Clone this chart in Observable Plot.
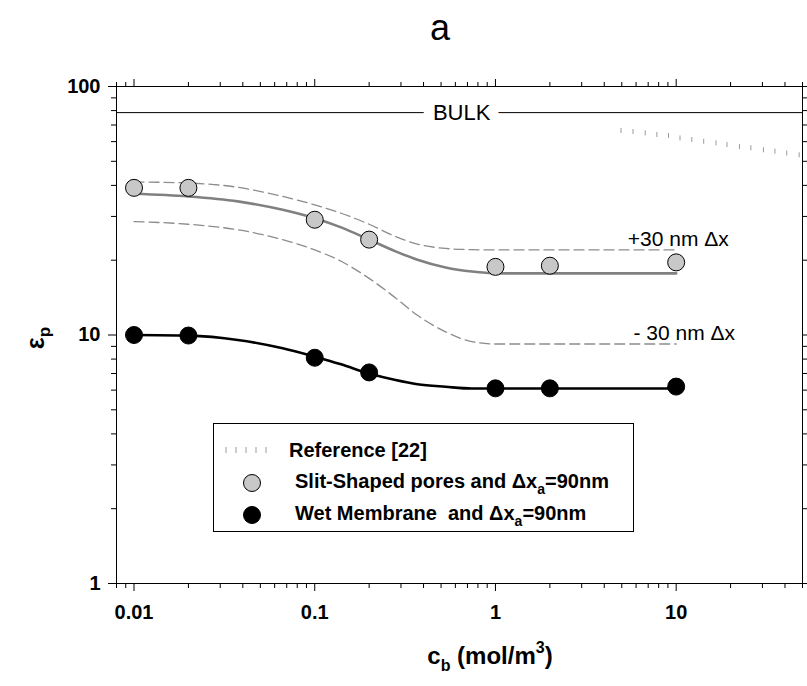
<!DOCTYPE html>
<html>
<head>
<meta charset="utf-8">
<script src="https://cdn.jsdelivr.net/npm/d3@7"></script>
<script src="https://cdn.jsdelivr.net/npm/@observablehq/plot@0.6"></script>
<style>
  body { margin: 0; background: #fff; font-family: "Liberation Sans", Arial, sans-serif; }
  #wrap { position: relative; width: 807px; height: 686px; overflow: hidden; }
  #title { position: absolute; left: 440px; top: 8px; transform: translateX(-50%); font-size: 36px; line-height: 40px; color: #000; }
  #chart { position: absolute; left: 0; top: 60px; }
</style>
</head>
<body>
<div id="wrap">
  <div id="title">a</div>
  <div id="chart"></div>
</div>
<script>
// Bulk concentration c_b (mol/m^3) of the measured points
const pointsX = [0.01, 0.02, 0.1, 0.2, 1, 2, 10];
// Slit-shaped pores, Δx_a = 90 nm
const slitY = [39.1, 39.1, 29.1, 24.2, 18.8, 19.0, 19.6];
// Wet membrane, Δx_a = 90 nm
const wetY = [10.0, 9.95, 8.1, 7.07, 6.1, 6.1, 6.2];

// Model curves sampled along c_b
const curveX = [0.01, 0.02, 0.0375, 0.0665, 0.1, 0.14, 0.2, 0.28, 0.37, 0.53, 0.74, 1, 10];
const slitFit = [37.0, 36.1, 34.5, 31.9, 29.5, 27.1, 24.2, 21.7, 20.1, 18.7, 18.0, 17.7, 17.7];
const plus30 = [41.3, 40.9, 39.3, 36.1, 33.4, 30.9, 27.9, 24.9, 23.2, 22.3, 22.05, 22.0, 22.0];
const minus30 = [28.6, 27.9, 26.5, 24.2, 22.0, 19.8, 16.9, 14.1, 12.0, 10.3, 9.4, 9.2, 9.2];
const wetFit = [10.0, 9.94, 9.55, 8.84, 8.18, 7.62, 7.0, 6.59, 6.34, 6.19, 6.09, 6.09, 6.09];

// Reference [22]
const refX = [4.95, 5.77, 6.74, 7.82, 9.07, 10.5, 12.2, 14.2, 16.6, 19.1, 22.4, 25.9, 30.4, 35.2, 40.9, 47.9];
const refY = [66.5, 65.9, 65.1, 64.1, 63.5, 62.1, 61.2, 60.2, 59.3, 58.4, 57.3, 56.7, 55.6, 54.9, 54.0, 53.1];

// Bulk permittivity
const bulkValue = 78.5;

// Axis ticks
const xTickLabels = [0.01, 0.1, 1, 10];
const yTickLabels = [1, 10, 100];

const xDomain = [0.008, 50];
const yDomain = [1, 100];

const xMinor = [];
for (let e = -3; e <= 1; e++) for (let m = 2; m <= 9; m++) {
  const v = m * Math.pow(10, e);
  if (v >= xDomain[0] && v <= xDomain[1]) xMinor.push(v);
}
const yMinor = [];
for (let e = 0; e <= 1; e++) for (let m = 2; m <= 9; m++) yMinor.push(m * Math.pow(10, e));

const pts = (xs, ys) => xs.map((x, i) => ({x, y: ys[i]}));

// small vertical dash used for the reference series
const dash = {
  draw(context, size) {
    const r = Math.sqrt(size / Math.PI);
    context.moveTo(0, -r);
    context.lineTo(0, r);
  }
};

const blank = () => "";

const plot = Plot.plot({
  width: 807,
  height: 626,
  marginTop: 26,
  marginLeft: 116,
  marginRight: 5,
  marginBottom: 103,
  x: {type: "log", domain: xDomain, label: null},
  y: {type: "log", domain: yDomain, label: null},
  style: {
    fontFamily: "'Liberation Sans', Arial, sans-serif",
    fontSize: "20px",
    fontWeight: "bold",
    color: "#000",
    background: "#fff",
    overflow: "visible"
  },
  marks: [
    // ticks on all four sides
    Plot.axisX({anchor: "bottom", ticks: xMinor, tickSize: 5, tickFormat: blank, label: null}),
    Plot.axisX({anchor: "top", ticks: xMinor, tickSize: 5, tickFormat: blank, label: null}),
    Plot.axisX({anchor: "top", ticks: xTickLabels, tickSize: 8, tickFormat: blank, label: null}),
    Plot.axisX({anchor: "bottom", ticks: xTickLabels, tickSize: 8, tickPadding: 13, tickFormat: d => String(d), label: null}),
    Plot.axisY({anchor: "left", ticks: yMinor, tickSize: 5, tickFormat: blank, label: null}),
    Plot.axisY({anchor: "right", ticks: yMinor, tickSize: 5, tickFormat: blank, label: null}),
    Plot.axisY({anchor: "right", ticks: yTickLabels, tickSize: 8, tickFormat: blank, label: null}),
    Plot.axisY({anchor: "left", ticks: yTickLabels, tickSize: 8, tickPadding: 8, tickFormat: d => String(d), label: null}),
    Plot.frame({stroke: "#000", strokeWidth: 1}),

    // bulk value with label
    Plot.ruleY([bulkValue], {stroke: "#000", strokeWidth: 1}),
    Plot.text([bulkValue], {x: () => 0.65, y: d => d, text: () => "BULK", fontSize: 22, fontWeight: "normal",
      fill: "#000", stroke: "#fff", strokeWidth: 22, strokeLinejoin: "round", paintOrder: "stroke"}),

    // reference series
    Plot.dot(pts(refX, refY), {x: "x", y: "y", symbol: dash, r: 2.5, fill: "none", stroke: "#9a9a9a", strokeWidth: 1}),

    // model curves
    Plot.line(pts(curveX, plus30), {x: "x", y: "y", curve: "monotone-x", stroke: "#8c8c8c", strokeWidth: 1.3, strokeDasharray: "10,5"}),
    Plot.line(pts(curveX, minus30), {x: "x", y: "y", curve: "monotone-x", stroke: "#8c8c8c", strokeWidth: 1.3, strokeDasharray: "10,5"}),
    Plot.line(pts(curveX, slitFit), {x: "x", y: "y", curve: "monotone-x", stroke: "#808080", strokeWidth: 2.6}),
    Plot.line(pts(curveX, wetFit), {x: "x", y: "y", curve: "monotone-x", stroke: "#000", strokeWidth: 2.6}),

    // curve labels
    Plot.text([plus30[plus30.length - 1]], {x: () => 5.4, y: () => 24.2, text: () => "+30 nm \u0394x", textAnchor: "start", fontSize: 21, fontWeight: "normal", fill: "#000"}),
    Plot.text([minus30[minus30.length - 1]], {x: () => 5.8, y: () => 10.2, text: () => "- 30 nm \u0394x", textAnchor: "start", fontSize: 21, fontWeight: "normal", fill: "#000"}),

    // measured points
    Plot.dot(pts(pointsX, slitY), {x: "x", y: "y", r: 8.5, fill: "#c8c8c8", stroke: "#000", strokeWidth: 1}),
    Plot.dot(pts(pointsX, wetY), {x: "x", y: "y", r: 8.5, fill: "#000", stroke: "#000", strokeWidth: 1})
  ]
});

document.getElementById("chart").appendChild(plot);

const svg = d3.select(plot);
const font = "'Liberation Sans', Arial, sans-serif";

// x axis title: c_b (mol/m^3)
const xt = svg.append("text")
  .attr("x", 490).attr("y", 604)
  .attr("text-anchor", "middle")
  .style("font-family", font).style("font-size", "24px").style("font-weight", "bold");
xt.append("tspan").text("c");
xt.append("tspan").attr("dy", 7).style("font-size", "16px").text("b");
xt.append("tspan").attr("dy", -7).text(" (mol/m");
xt.append("tspan").attr("dy", -11).style("font-size", "16px").text("3");
xt.append("tspan").attr("dy", 11).text(")");

// y axis title: ε_p
const yt = svg.append("text")
  .attr("transform", "translate(44,278) rotate(-90)")
  .attr("text-anchor", "middle")
  .style("font-family", font).style("font-size", "25px").style("font-weight", "bold");
yt.append("tspan").text("\u03b5");
yt.append("tspan").attr("dy", 6).style("font-size", "17px").text("p");

// legend
const lg = svg.append("g")
  .attr("text-anchor", "start")
  .style("font-family", font).style("font-size", "20px").style("font-weight", "bold");
lg.append("rect").attr("x", 213.5).attr("y", 363.5).attr("width", 420).attr("height", 108)
  .attr("fill", "#fff").attr("stroke", "#000").attr("stroke-width", 1);
[226, 236, 246, 256, 266].forEach(x => {
  lg.append("line").attr("x1", x).attr("x2", x).attr("y1", 387).attr("y2", 393)
    .attr("stroke", "#9a9a9a").attr("stroke-width", 1);
});
lg.append("text").attr("x", 289).attr("y", 390).attr("dy", "0.35em").text("Reference [22]");

lg.append("circle").attr("cx", 252).attr("cy", 423).attr("r", 8.5).attr("fill", "#c8c8c8").attr("stroke", "#000");
const l2 = lg.append("text").attr("x", 295).attr("y", 421).attr("dy", "0.35em").style("white-space", "pre");
l2.append("tspan").text("Slit-Shaped pores and \u0394x");
l2.append("tspan").attr("dy", 6).style("font-size", "14px").text("a");
l2.append("tspan").attr("dy", -6).text("=90nm");

lg.append("circle").attr("cx", 252).attr("cy", 455).attr("r", 8.5).attr("fill", "#000").attr("stroke", "#000");
const l3 = lg.append("text").attr("x", 295).attr("y", 453).attr("dy", "0.35em").style("white-space", "pre");
l3.append("tspan").text("Wet Membrane  and \u0394x");
l3.append("tspan").attr("dy", 6).style("font-size", "14px").text("a");
l3.append("tspan").attr("dy", -6).text("=90nm");
</script>
</body>
</html>
